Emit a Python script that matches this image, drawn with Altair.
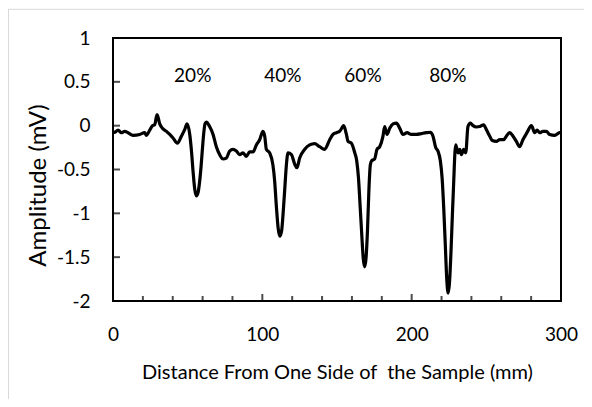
import altair as alt
import pandas as pd

FONT = "Lato"

# ---- data (distance in mm, amplitude in mV) ----
x_a = [0, 1.2, 3.4, 5.6, 7.8, 10, 13.4, 17.9, 21.2, 22.4, 24.6, 26.4, 27.9, 29.5, 31.3, 33.1, 35.8, 38, 40.2, 43.1, 45.8, 48]
y_a = [-0.07, -0.076, -0.05, -0.08, -0.065, -0.08, -0.11, -0.10, -0.08, -0.11, -0.05, 0.0, 0.01, 0.125, 0.02, -0.03, -0.065, -0.10, -0.14, -0.20, -0.12, -0.045]

x_b = [49.6, 51.4, 52.5, 53.6, 54.7, 55.8, 57, 58, 59, 59.9, 60.8, 61.6, 62.5]
y_b = [0.02, -0.10, -0.28, -0.52, -0.72, -0.80, -0.76, -0.64, -0.46, -0.26, -0.08, 0.02, 0.04]

x_c = [64.7, 67, 69.2, 71.4, 73.7, 75.9, 78.1, 80.4, 82.6, 84.8, 87.1, 89.3, 91.5, 93.8, 96, 98.2, 100.4, 101.6, 102.7, 104.9]
y_c = [-0.01, -0.10, -0.24, -0.33, -0.38, -0.37, -0.29, -0.27, -0.29, -0.33, -0.31, -0.35, -0.30, -0.30, -0.22, -0.16, -0.065, -0.12, -0.27, -0.31]

x_d = [107.1, 108.2, 109.4, 110.6, 111.7, 112.9, 114, 115.1, 116.1, 117.2]
y_d = [-0.45, -0.62, -0.92, -1.17, -1.26, -1.20, -0.98, -0.70, -0.45, -0.31]

x_e = [119.5, 121.7, 123.2, 125, 128.4, 131.7, 135, 138.4, 141.7, 145.1, 147.3, 149.6, 151.8, 154.5, 156.3, 157.4, 159.6, 161.9]
y_e = [-0.33, -0.44, -0.48, -0.37, -0.27, -0.22, -0.205, -0.24, -0.27, -0.16, -0.10, -0.08, -0.065, 0.0, -0.10, -0.18, -0.20, -0.31]

x_f = [163.2, 164.4, 165.5, 166.6, 167.6, 168.5, 169.4, 170.4, 171.4, 172.3, 173.2, 175.2]
y_f = [-0.40, -0.60, -0.92, -1.25, -1.52, -1.61, -1.52, -1.20, -0.72, -0.45, -0.40, -0.38]

x_g = [176.8, 178.6, 180.8, 181.9, 183.5, 185.3, 187.5, 189.8, 192, 194.2, 196.9, 199.8, 203.2, 206.5, 209.9, 212.5, 214.3, 216.1, 217.6, 219.2]
y_g = [-0.27, -0.24, -0.12, -0.01, -0.10, -0.03, 0.02, 0.03, -0.03, -0.10, -0.08, -0.10, -0.10, -0.09, -0.08, -0.075, -0.12, -0.25, -0.29, -0.40]

x_h = [220.4, 221.5, 222.5, 223.5, 224.4, 225.3, 226.3, 227.3, 228.2, 229, 229.5]
y_h = [-0.60, -0.95, -1.35, -1.75, -1.91, -1.80, -1.45, -1.00, -0.62, -0.30, -0.22]

x_i = [231.1, 232.2, 233.3, 234.8, 236.2, 237.7, 239.3, 241.1, 243.3, 245.6, 248.2, 250, 252.3, 254, 256.7, 259, 261.6, 263.4, 265.6, 267.9, 270.1, 272.3, 274.5, 277.2, 280.2, 282.4, 284, 285.7, 287.9, 290.2, 292.4, 295.8, 299.1, 300]
y_i = [-0.31, -0.27, -0.33, -0.27, -0.31, -0.01, 0.03, 0.0, -0.015, -0.01, 0.01, -0.045, -0.12, -0.17, -0.18, -0.16, -0.16, -0.12, -0.08, -0.12, -0.18, -0.24, -0.16, -0.08, 0.0, -0.08, -0.05, -0.08, -0.065, -0.065, -0.10, -0.11, -0.08, -0.08]

distance = x_a + x_b + x_c + x_d + x_e + x_f + x_g + x_h + x_i
amplitude = y_a + y_b + y_c + y_d + y_e + y_f + y_g + y_h + y_i

labels = ["20%", "40%", "60%", "80%"]
label_x = [53.4, 113.8, 167.4, 224.3]
label_y = [0.565, 0.565, 0.565, 0.565]

x_major = [0, 100, 200, 300]
x_minor = [20, 40, 60, 80, 120, 140, 160, 180, 220, 240, 260, 280]
y_ticks = [-2, -1.5, -1, -0.5, 0, 0.5, 1]

df = pd.DataFrame({"x": distance, "y": amplitude})
lab_df = pd.DataFrame({"x": label_x, "y": label_y, "t": labels})

xs = alt.Scale(domain=[0, 300], nice=False, zero=False)
ys = alt.Scale(domain=[-2, 1], nice=False, zero=False)

xaxis = alt.Axis(
    values=x_major, title="Distance From One Side of\u00a0 the Sample (mm)",
    labelPadding=24, labelFlush=False, titleFontSize=20, titleBaseline="alphabetic", titleY=77,
)
yaxis = alt.Axis(
    values=y_ticks, title="Amplitude (mV)", labelExpr="toString(datum.value)",
    labelPadding=23, labelFlush=False, titleFontSize=24, titleBaseline="middle",
    titleX=-75, titleY=147,
)

X = lambda: alt.X("x:Q", scale=xs, axis=xaxis)
Y = lambda: alt.Y("y:Q", scale=ys, axis=yaxis)

line = alt.Chart(df).mark_line(
    color="black", strokeWidth=3.2, interpolate="monotone", strokeJoin="round"
).encode(x=X(), y=Y())

xmaj = alt.Chart(pd.DataFrame({"x": x_major})).mark_tick(
    orient="vertical", size=7, thickness=2, color="black", yOffset=-3.5
).encode(x=X(), y=alt.datum(-2, scale=ys, axis=yaxis))

xmin = alt.Chart(pd.DataFrame({"x": x_minor})).mark_tick(
    orient="vertical", size=5, thickness=2, color="black", yOffset=-2.5
).encode(x=X(), y=alt.datum(-2, scale=ys, axis=yaxis))

yt = alt.Chart(pd.DataFrame({"y": y_ticks})).mark_tick(
    orient="horizontal", size=7, thickness=2, color="black", xOffset=3.5
).encode(y=Y(), x=alt.datum(0, scale=xs, axis=xaxis))

text = alt.Chart(lab_df).mark_text(
    font=FONT, fontSize=19, color="black", baseline="middle", align="center"
).encode(x=X(), y=Y(), text="t:N")

one = alt.Data(values=[{"a": 1}])
border_top = alt.Chart(one).mark_rule(color="#d9d9d9", strokeWidth=1).encode(
    x=alt.value(-105), x2=alt.value(480), y=alt.value(-28.7)
)
border_left = alt.Chart(one).mark_rule(color="#d9d9d9", strokeWidth=1).encode(
    x=alt.value(-104.5), y=alt.value(-29), y2=alt.value(370)
)

chart = alt.layer(line, xmaj, xmin, yt, text, border_top, border_left).properties(
    width=448, height=263,
    padding={"left": 105, "top": 30, "right": 23, "bottom": 98},
    autosize=alt.AutoSizeParams(type="none"),
    background="white",
).configure_view(
    stroke="black", strokeWidth=2
).configure_axis(
    domain=False, grid=False, ticks=False, tickSize=0,
    labelFont=FONT, labelFontSize=19, labelColor="black",
    titleFont=FONT, titleFontWeight="normal", titleColor="black",
)

chart.save("out.html", embed_options={"renderer": "svg", "actions": False})
